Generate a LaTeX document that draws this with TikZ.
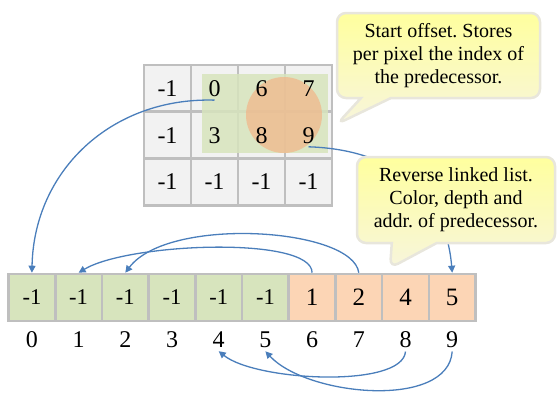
\documentclass[tikz,border=0pt]{standalone}
\usepackage{fontspec}
\setmainfont{Liberation Serif}
\usepackage{tikz}
\usetikzlibrary{arrows.meta}
\usetikzlibrary{positioning}
\usetikzlibrary{shapes}
\definecolor{cellgray}{HTML}{F2F2F2}
\definecolor{linegray}{HTML}{BFBFBF}
\definecolor{pixgreen}{HTML}{D7E4BD}
\definecolor{listorange}{HTML}{FCD5B5}
\definecolor{blobtan}{HTML}{F4B183}
\definecolor{linkblue}{HTML}{4A7EBB}
\definecolor{noteedge}{HTML}{E8E6DC}
\definecolor{notetop}{HTML}{FFFF9E}
\definecolor{notebot}{HTML}{F7F5DC}
\tikzstyle{cell}=[draw=linegray,line width=2.6pt,minimum width=46.7pt,minimum height=47pt,inner sep=0pt]
\tikzstyle{link}=[draw=linkblue,line width=1.3pt,-{Triangle[length=7pt,width=7pt]}]
\tikzstyle{note}=[shape=rectangle callout,rounded corners=9pt,draw=noteedge,line width=2.5pt,top color=notetop,bottom color=notebot,align=center,font=\fontsize{20}{23}\selectfont]
\frenchspacing

\begin{document}
\begin{tikzpicture}[x=1pt,y=-1pt]
\useasboundingbox (0,0) rectangle (558,392);
% pixel grid
\foreach \r in {0,1,2}
  \foreach \c in {0,...,3}
    \node [cell,fill=cellgray] (g\r\c) at (167.5+47*\c,88.5+46.7*\r) {};
\fill [pixgreen,opacity=.85] (202,74) rectangle (328,153);
\fill [blobtan,opacity=.65] (284,115) circle (38pt);
\foreach \r/\c/\v in {0/0/-1,0/1/0,0/2/6,0/3/7,1/0/-1,1/1/3,1/2/8,1/3/9,2/0/-1,2/1/-1,2/2/-1,2/3/-1}
  \node [font=\fontsize{24}{28}\selectfont] (t\r\c) at (g\r\c) {\v};

% linked list
\foreach \i in {0,...,5}
  \node [cell,fill=pixgreen,font=\fontsize{22.5}{26}\selectfont] (c\i) at (31.9+46.7*\i,297.5) {-1};
\foreach \i/\v in {6/1,7/2,8/4,9/5}
  \node [cell,fill=listorange,font=\fontsize{25}{29}\selectfont] (c\i) at (31.9+46.7*\i,297.5) {\v};
\foreach \i in {0,...,9}
  \node [below=6pt of c\i,font=\fontsize{24}{28}\selectfont] (n\i) {\i};

\draw [link] (t01.south) .. controls +(-103,-3) and +(2,-102) .. (c0.north);
\draw [link] (t13.south) .. controls +(92,3) and +(-6,-73) .. (c9.north);
\draw [link] (c6.north) .. controls +(0,-37) and +(50,-30) .. (c1.north);
\draw [link] (c7.north) .. controls +(-6,-45) and +(43,-57) .. (c2.north);
\draw [link] (n8.south) .. controls +(-3,37) and +(37,30) .. (n4.south);
\draw [link] (n9.south) .. controls +(-4,58) and +(42,45) .. (n5.south);

% notes
\node [note,minimum width=203pt,minimum height=85pt,callout absolute pointer={(337,124)},callout pointer width=30pt] (s) at (438.5,55.5) {Start offset. Stores\\per pixel the index of\\the predecessor.};
\node [note,minimum width=198pt,minimum height=86pt,callout absolute pointer={(390,268)},callout pointer width=45pt] (l) at (456,200) {Reverse linked list.\\Color, depth and\\addr. of predecessor.};
\end{tikzpicture}
\end{document}
